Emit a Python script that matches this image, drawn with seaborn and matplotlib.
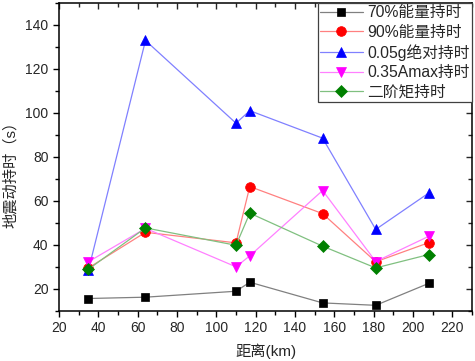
import matplotlib
matplotlib.use("Agg")
import matplotlib.pyplot as plt
from matplotlib.ticker import MultipleLocator
import seaborn as sns
import pandas as pd

distance = [35, 64, 110, 117, 154, 181, 208]
e70 = [15.6, 16.2, 18.9, 23.0, 13.6, 12.5, 22.5]
e90 = [29.5, 45.7, 40.9, 66.5, 54.2, 32.3, 41.0]
g005 = [28.5, 132.9, 95.3, 101.0, 88.5, 47.0, 63.6]
amax035 = [32.3, 47.5, 30.0, 35.0, 64.7, 32.4, 43.9]
second = [28.9, 47.7, 39.8, 54.4, 39.4, 29.5, 35.6]
labels = ["70%能量持时", "90%能量持时", "0.05g绝对持时", "0.35Amax持时", "二阶矩持时"]

sns.set_theme(style="white")
plt.rcParams['font.family'] = ['Liberation Sans', 'Noto Sans CJK SC']

series = [e70, e90, g005, amax035, second]
marker_colors = ["#000000", "#ff0000", "#0000ff", "#ff00ff", "#008000"]
line_colors = ["#808080", "#ff8080", "#8080ff", "#ff80ff", "#80c080"]
markers = ["s", "o", "^", "v", "D"]
msizes = [6, 7, 7, 7, 6]

fig = plt.figure(figsize=(4.75, 3.61), dpi=100)
ax = fig.add_axes([0.124, 0.139, 0.870, 0.853])

for vals, lab, mc, lc, mk, ms in zip(series, labels, marker_colors, line_colors, markers, msizes):
    df = pd.DataFrame({"distance": distance, "value": vals})
    sns.lineplot(data=df, x="distance", y="value", ax=ax, color=lc, lw=0.9,
                 marker=mk, markersize=ms, markerfacecolor=mc, markeredgecolor=mc,
                 markeredgewidth=0.5, label=lab)

xt = [20, 40, 60, 80, 100, 120, 140, 160, 180, 200, 220]
yt = [20, 40, 60, 80, 100, 120, 140]
ax.set_xlim(20, 230)
ax.set_ylim(10, 150)
ax.set_xticks(xt)
ax.set_yticks(yt)
ax.xaxis.set_minor_locator(MultipleLocator(10))
ax.yaxis.set_minor_locator(MultipleLocator(10))

ax.tick_params(axis="both", which="both", direction="out", color="black", labelsize=10,
               bottom=True, left=True, top=False, right=False, width=1)
ax.tick_params(which="major", length=4)
ax.tick_params(which="minor", length=3)

ax_top = ax.secondary_xaxis("top")
ax_top.set_xticks(xt)
ax_top.xaxis.set_minor_locator(MultipleLocator(10))
ax_top.tick_params(axis="x", which="both", direction="in", labeltop=False, width=1)
ax_top.tick_params(which="major", length=4)
ax_top.tick_params(which="minor", length=3)
ax_right = ax.secondary_yaxis("right")
ax_right.set_yticks(yt)
ax_right.yaxis.set_minor_locator(MultipleLocator(10))
ax_right.tick_params(axis="y", which="both", direction="in", labelright=False, width=1)
ax_right.tick_params(which="major", length=4)
ax_right.tick_params(which="minor", length=3)
for a in (ax_top, ax_right):
    for s in a.spines.values():
        s.set_visible(False)

for s in ax.spines.values():
    s.set_color("black")
    s.set_linewidth(1.1)

ax.set_xlabel("距离(km)", fontsize=11, labelpad=6)
ax.set_ylabel("地震动持时（s）", fontsize=11)
ax.yaxis.set_label_coords(-0.099, 0.455)

leg = ax.legend(loc="upper right", fontsize=11.3, frameon=True, fancybox=False,
                edgecolor="#404040", framealpha=1, borderpad=0.15, labelspacing=0.28,
                handlelength=2.7, handletextpad=0.3, borderaxespad=0.0)
leg.get_frame().set_linewidth(0.9)

fig.savefig("out.png", dpi=100)
